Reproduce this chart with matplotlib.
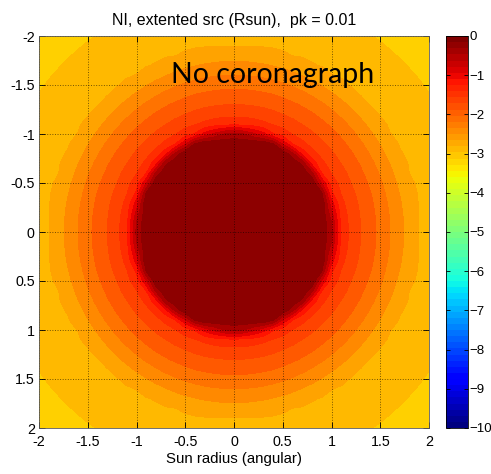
import numpy as np
import matplotlib.pyplot as plt
from matplotlib import cm, colors

# radial profile: radius (Rsun) -> log10 level
prof_r = [0.0, 0.97, 1.02, 1.08, 1.16, 1.30, 1.46, 1.60, 1.74, 1.89, 2.45, 2.90]
prof_v = [0.0, -0.05, -0.7, -1.25, -1.5, -1.75, -2.0, -2.25, -2.5, -2.75, -3.0, -3.15]

ticks = [-2, -1.5, -1, -0.5, 0, 0.5, 1, 1.5, 2]
tick_labels = ['-2', '-1.5', '-1', '-0.5', '0', '0.5', '1', '1.5', '2']
cb_ticks = list(range(0, -11, -1))

plt.rcParams['font.family'] = ['Liberation Sans', 'DejaVu Sans']

x = np.linspace(-2, 2, 41)
X, Y = np.meshgrid(x, x)
R = np.hypot(X, Y)
Z = np.interp(R, prof_r, prof_v)

fig = plt.figure(figsize=(4.91, 4.74), dpi=100)
ax = fig.add_axes([39 / 491, 46 / 474, 390 / 491, 392 / 474])
levels = np.arange(-10, 0.001, 0.25)
ax.contourf(X, Y, Z, levels=levels, cmap='jet', vmin=-10, vmax=0)
ax.set_xlim(-2, 2)
ax.set_ylim(2, -2)
ax.set_xticks(ticks)
ax.set_xticklabels(tick_labels)
ax.set_yticks(ticks)
ax.set_yticklabels(tick_labels)
ax.tick_params(direction='in', top=True, right=True, length=4, labelsize=10.3, width=0.6)
ax.tick_params(axis='x', pad=5)
ax.tick_params(axis='y', pad=3)
ax.grid(True, color='k', linestyle=':', linewidth=0.7, alpha=0.55)
for s in ax.spines.values():
    s.set_linewidth(0.6)
    s.set_color('0.35')
ax.set_title('NI, extented src (Rsun),  pk = 0.01', fontsize=11.5, pad=8)
ax.set_xlabel('Sun radius (angular)', fontsize=10.8, labelpad=2)
ax.text(171 / 491, 1 - 83 / 474, 'No coronagraph', transform=fig.transFigure, fontsize=20.5,
        family=['Lato', 'DejaVu Sans'], color='k', va='baseline')

cax = fig.add_axes([446 / 491, 46 / 474, 22 / 491, 392 / 474])
sm = cm.ScalarMappable(norm=colors.Normalize(-10, 0), cmap=plt.get_cmap('jet', 64))
cb = fig.colorbar(sm, cax=cax, ticks=cb_ticks)
cb.ax.tick_params(direction='in', length=3, labelsize=9.5, width=0.6, left=True, pad=1)
cb.outline.set_linewidth(0.6)

fig.savefig('out.png', dpi=100)
